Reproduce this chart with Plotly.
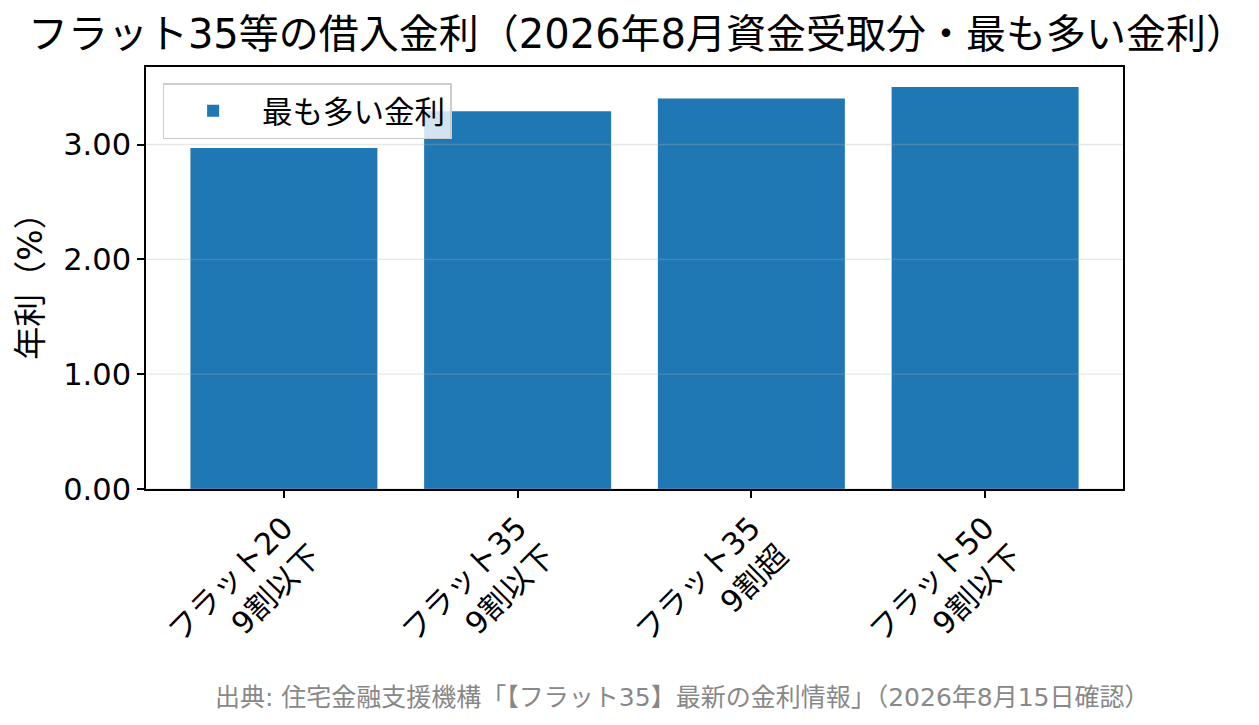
import plotly.graph_objects as go

categories = ["フラット20<br>9割以下", "フラット35<br>9割以下", "フラット35<br>9割超", "フラット50<br>9割以下"]
rates = [2.97, 3.29, 3.40, 3.50]
series_name = "最も多い金利"
y_ticks = [0, 1, 2, 3]
title_text = "フラット35等の借入金利（2026年8月資金受取分・最も多い金利）"
y_label = "年利（%）"
source_text = "出典: 住宅金融支援機構「【フラット35】最新の金利情報」（2026年8月15日確認）"

FONT = "DejaVu Sans, Noto Sans CJK JP"
BLUE = "#1f77b4"

fig = go.Figure()
fig.add_trace(go.Bar(
    x=list(range(len(categories))), y=rates, name=series_name,
    marker=dict(color=BLUE, line=dict(width=0)), width=0.8,
    showlegend=True,
))

ymax = max(rates) * 1.05
n = len(categories)
pad = (n - 1 + 0.8) * 0.05

shapes = [
    dict(type="line", xref="paper", x0=0, x1=1, yref="y", y0=t, y1=t,
         line=dict(color="rgba(176,176,176,0.3)", width=1.3), layer="above")
    for t in y_ticks
]

W, H = 1259, 725
OFF = 8  # page body margin
L, T, PW, PH = 146 - OFF, 67 - OFF, 977, 422

fig.update_layout(
    width=W, height=H,
    margin=dict(l=L, r=W - L - PW, t=T, b=H - T - PH),
    paper_bgcolor="white", plot_bgcolor="white",
    font=dict(family=FONT, size=30.5, color="black"),
    title=dict(text=title_text, x=(637 - OFF) / W, xref="container", xanchor="center",
               y=1 - (34 - OFF) / H, yref="container", yanchor="middle",
               font=dict(family=FONT, size=40, color="black")),
    showlegend=True,
    legend=dict(x=0.017, y=0.962, xanchor="left", yanchor="top",
                bgcolor="rgba(255,255,255,0.8)", bordercolor="#cccccc", borderwidth=1.5,
                font=dict(family=FONT, size=30.5, color="black"),
                itemwidth=88),
    shapes=shapes,
)

fig.update_xaxes(
    tickmode="array", tickvals=list(range(n)), ticktext=categories,
    range=[-0.4 - pad, n - 1 + 0.4 + pad],
    tickangle=-45, ticks="outside", ticklen=7, tickwidth=1.5, tickcolor="black",
    showline=True, linecolor="black", linewidth=1.5, mirror=True,
    showgrid=False, zeroline=False,
    tickfont=dict(family=FONT, size=30.5, color="black"),
)
fig.update_yaxes(
    range=[0, ymax], tickmode="array", tickvals=y_ticks, tickformat=".2f",
    ticks="outside", ticklen=7, tickwidth=1.5, tickcolor="black",
    showline=True, linecolor="black", linewidth=1.5, mirror=True,
    showgrid=False, zeroline=False,
    tickfont=dict(family=FONT, size=30.5, color="black"),
    title=dict(text=y_label, standoff=11, font=dict(family=FONT, size=33, color="black")),
)

fig.add_annotation(
    text=source_text, xref="paper", yref="paper",
    x=(1152 - 146) / PW, y=(489 - 697) / PH, xanchor="right", yanchor="middle",
    showarrow=False, font=dict(family=FONT, size=25, color="#888888"),
)

fig.write_html("out.html")
